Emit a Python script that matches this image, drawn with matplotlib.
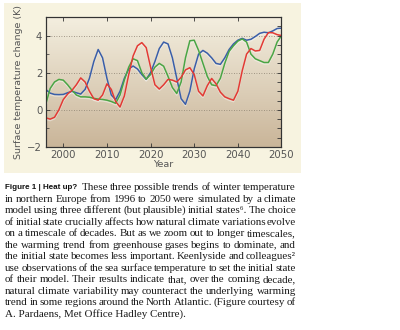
import numpy as np
import matplotlib
matplotlib.use("Agg")
import matplotlib.pyplot as plt
from matplotlib.patches import Rectangle

years = list(range(1996, 2051))
blue = [1.1, 0.9, 0.83, 0.82, 0.83, 0.92, 1.0, 0.92, 0.85, 1.1,
        1.7, 2.6, 3.25, 2.8, 1.7, 0.8, 0.55, 1.0, 1.7, 2.2,
        2.36, 2.2, 1.9, 1.64, 2.0, 2.6, 3.3, 3.65, 3.55, 2.8,
        1.7, 0.6, 0.3, 1.0, 2.2, 3.0, 3.2, 3.05, 2.8, 2.5,
        2.45, 2.8, 3.25, 3.55, 3.75, 3.85, 3.75, 3.8, 3.95, 4.12,
        4.18, 4.15, 4.25, 4.38, 4.4]
green = [0.3, 1.15, 1.5, 1.64, 1.6, 1.35, 1.05, 0.8, 0.7, 0.7,
         0.68, 0.62, 0.58, 0.56, 0.52, 0.45, 0.35, 0.8, 1.6, 2.3,
         2.75, 2.65, 2.0, 1.65, 1.9, 2.3, 2.5, 2.35, 1.8, 1.2,
         0.88, 1.5, 2.8, 3.72, 3.75, 3.2, 2.5, 1.8, 1.35, 1.3,
         1.7, 2.5, 3.15, 3.45, 3.7, 3.82, 3.65, 3.0, 2.75, 2.65,
         2.55, 2.55, 3.0, 3.65, 4.0]
red = [-0.43, -0.5, -0.4, 0.0, 0.55, 0.85, 1.05, 1.35, 1.72, 1.5,
       1.0, 0.6, 0.52, 0.8, 1.4, 1.1, 0.45, 0.15, 0.75, 1.9,
       2.9, 3.45, 3.62, 3.35, 2.3, 1.35, 1.12, 1.35, 1.64, 1.6,
       1.5, 1.75, 2.15, 2.27, 1.9, 1.0, 0.75, 1.3, 1.69, 1.4,
       0.95, 0.7, 0.6, 0.52, 1.0, 2.1, 3.0, 3.3, 3.17, 3.2,
       3.8, 4.16, 4.15, 4.05, 4.0]
xticks = [2000, 2010, 2020, 2030, 2040, 2050]
yticks = [-2, 0, 2, 4]

caption_head = "Figure 1 | Heat up?"
caption_lines = [
    "These three possible trends of winter temperature",
    "in northern Europe from 1996 to 2050 were simulated by a climate",
    "model using three different (but plausible) initial states\u2076. The choice",
    "of initial state crucially affects how natural climate variations evolve",
    "on a timescale of decades. But as we zoom out to longer timescales,",
    "the warming trend from greenhouse gases begins to dominate, and",
    "the initial state becomes less important. Keenlyside and colleagues\u00b2",
    "use observations of the sea surface temperature to set the initial state",
    "of their model. Their results indicate that, over the coming decade,",
    "natural climate variability may counteract the underlying warming",
    "trend in some regions around the North Atlantic. (Figure courtesy of",
    "A. Pardaens, Met Office Hadley Centre).",
]

W, H = 400, 330
fig = plt.figure(figsize=(4, 3.3), dpi=100)
fig.patch.set_facecolor("white")

fig.patches.append(Rectangle((4 / W, 1 - 173 / H), (301 - 4) / W, (173 - 3) / H,
                             transform=fig.transFigure, facecolor="#f7f3e0",
                             edgecolor="none", zorder=-5))

ax = fig.add_axes([45.8 / W, 1 - 147 / H, (281.5 - 45.8) / W, (147 - 17) / H])

grad = np.linspace(0, 1, 256).reshape(-1, 1)
top = np.array([0.955, 0.935, 0.875])
bot = np.array([0.79, 0.71, 0.60])
img = top + (bot - top) * grad[:, :, None] * np.ones((1, 1, 3))
ax.imshow(img, extent=[1996, 2050, -2, 5], origin="upper", aspect="auto", zorder=0)
ax.set_xlim(1996, 2050)
ax.set_ylim(-2, 5)

for v in [0, 2, 4]:
    ax.axhline(v, color="#8a8070", lw=0.6, ls=(0, (1, 2)), zorder=1)

for ys, c in [(blue, "#3a5ea8"), (green, "#4aa544"), (red, "#e23a34")]:
    ax.plot(years, np.array(ys) - 0.07, color="white", lw=1.3, alpha=0.4, zorder=2)
    ax.plot(years, ys, color=c, lw=1.1, zorder=3)

ax.set_xticks(xticks)
ax.set_yticks(yticks)
ax.set_yticks(np.arange(-2, 5.01, 1.0), minor=True)
ax.tick_params(axis="both", which="major", direction="in", length=3, width=0.6,
               labelsize=7.3, labelcolor="#555555", color="#333333",
               top=True, right=False, pad=2.5)
ax.tick_params(axis="y", which="minor", direction="in", length=2, width=0.5,
               color="#333333", right=False)
axr = ax.twinx()
axr.set_ylim(-2, 5)
axr.set_yticks(np.arange(-2, 5.01, 0.5))
axr.tick_params(axis="y", direction="in", length=3, width=0.6, color="#333333",
                labelright=False)
for a in (ax, axr):
    for s in a.spines.values():
        s.set_linewidth(0.8)
        s.set_color("#333333")

ax.set_ylabel("Surface temperature change (K)", fontsize=6.8, color="#555555", labelpad=3)
ax.set_xlabel("Year", fontsize=6.8, color="#555555", labelpad=0)

# caption
renderer = fig.canvas.get_renderer()
serif = ["Liberation Serif", "DejaVu Serif"]
left_px, right_px = 5, 295
y0, dy = 187.7, 11.48
min_gap = 2.3
corr = 0.9  # bbox padding beyond the ink of each word


def width_of(s, size, **kw):
    t = fig.text(0, 0, s, fontsize=size, **kw)
    w = t.get_window_extent(renderer).width
    t.remove()
    return w


hfs = 5.8
hw = width_of(caption_head, hfs, family="Liberation Sans", weight="bold")
fig.text(left_px / W, 1 - y0 / H, caption_head, fontsize=hfs, family="Liberation Sans",
         weight="bold", va="center", ha="left", color="#111111")
first_start = left_px + hw + 4

cands = []
for l in caption_lines[1:-1]:
    ws = l.split(" ")
    n = len(ws)
    avail = right_px - left_px
    s10 = sum(width_of(w, 10, family=serif) for w in ws)
    cands.append(10 * (avail + n * corr - (n - 1) * min_gap) / s10)
fs = min(cands)

for i, line in enumerate(caption_lines):
    y = 1 - (y0 + i * dy) / H
    if i == len(caption_lines) - 1:
        fig.text(left_px / W, y, line, fontsize=fs, family=serif, va="center",
                 ha="left", color="#1a1a1a")
        continue
    start = first_start if i == 0 else left_px
    words = line.split(" ")
    widths = [width_of(w, fs, family=serif) - corr for w in words]
    gap = (right_px - start - sum(widths)) / max(len(words) - 1, 1)
    gap = max(gap, 1.6)
    x = start
    for w, wdt in zip(words, widths):
        fig.text(x / W, y, w, fontsize=fs, family=serif, va="center", ha="left",
                 color="#1a1a1a")
        x += wdt + gap

fig.savefig("out.png", dpi=100, facecolor="white")
